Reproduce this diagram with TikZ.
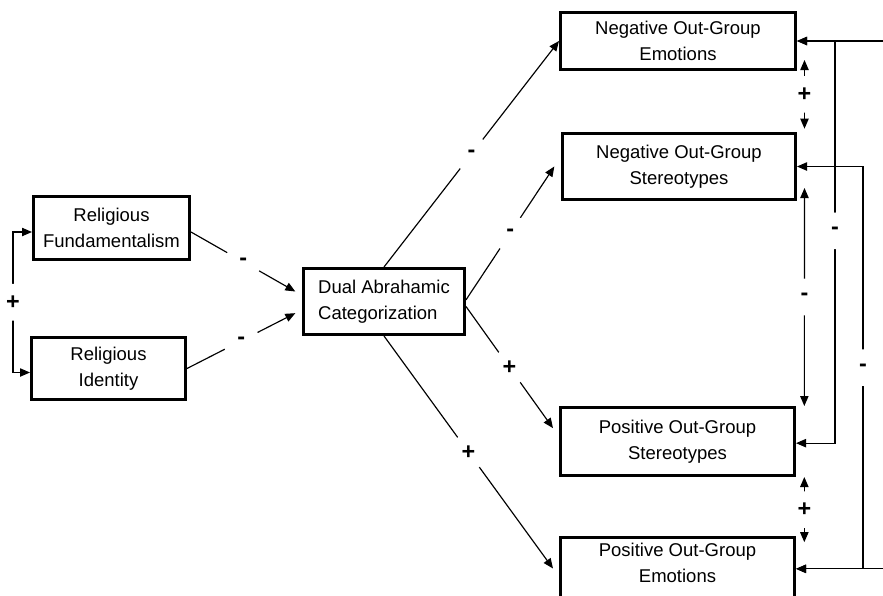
\documentclass[tikz,border=0pt]{standalone}
\usepackage{fontspec}
\setmainfont{Liberation Sans}
\usetikzlibrary{arrows.meta}

\begin{document}
\begin{tikzpicture}[x=0.6pt, y=-0.6pt, >={Triangle[length=6pt,width=5pt]},
    box/.style={rectangle, draw, line width=1.8pt, align=center, font=\fontsize{11.1}{15.6}\selectfont},
    link/.style={->, line width=0.7pt},
    sign/.style={circle, fill=white, inner sep=0pt, minimum size=22pt, font=\fontsize{14}{16}\selectfont\bfseries}]
    \useasboundingbox (0,0) rectangle (883,596);
    % Religiosity measures
    \node[box, minimum width=93.6pt, minimum height=37.8pt] (fund) at (111.5,228) {Religious\\Fundamentalism};
    \node[box, minimum width=92.4pt, minimum height=37.2pt] (ident) at (108.5,368.5) {Religious\\Identity};
    % Mediator
    \node[box, align=left, minimum width=96.6pt, minimum height=39.6pt] (dual) at (384,301.5) {Dual Abrahamic\\Categorization};
    % Out-group outcomes
    \node[box, minimum width=141pt, minimum height=34.2pt] (negemo) at (678,41) {Negative Out-Group\\Emotions};
    \node[box, minimum width=139.8pt, minimum height=39.6pt] (negster) at (679,166.5) {Negative Out-Group\\Stereotypes};
    \node[box, minimum width=140.4pt, minimum height=40.8pt] (posster) at (677.5,441.5) {Positive Out-Group\\Stereotypes};
    \node[box, minimum width=140.4pt, anchor=north, text height=24.2pt, text depth=10pt] (posemo) at (677.5,535.5) {Positive Out-Group\\Emotions};

    % Paths into the mediator
    \draw[link] ([yshift=-2.4pt]fund.east) -- node[sign]{-} ([xshift=-4pt,yshift=6pt]dual.west);
    \draw[link] (ident.east) -- node[sign]{-} ([xshift=-4pt,yshift=-7pt]dual.west);
    \draw[link,<->] ([yshift=-2.4pt]fund.west) -- ++(-19,0) |- node[pos=0.25,sign]{+} ([yshift=-2.4pt]ident.west);

    % Paths out of the mediator
    \draw[link] (dual.north) -- node[sign]{-} (negemo.west);
    \draw[link] ([yshift=1pt]dual.east) -- node[sign]{-} ([xshift=-4pt]negster.west);
    \draw[link] ([yshift=-3pt]dual.east) -- node[sign]{+} ([xshift=-3.6pt,yshift=8pt]posster.west);
    \draw[link] (dual.south) -- node[sign]{+} ([xshift=-3.6pt,yshift=-19.8pt]posemo.north west);

    % Correlations among outcomes
    \draw[link,<->] ([xshift=4.5pt,yshift=6.6pt]negemo.south east) -- node[sign]{+} ([xshift=4.5pt,yshift=2pt]negster.north east);
    \draw[link,<->] ([xshift=4.5pt,yshift=7.8pt]negster.south east) -- node[sign]{-} ([xshift=5pt]posster.north east);
    \draw[link,<->] ([xshift=5pt]posster.south east) -- node[sign]{+} ([xshift=5pt,yshift=-4pt]posemo.north east);
    \draw[link,<->] (negster.east) -- ++(66,0) |- node[pos=0.25,sign]{-} ([yshift=-20pt]posemo.north east);
    \draw[link,<->] (negemo.east) -- ++(38,0) |- node[pos=0.236,sign]{-} ([yshift=-1pt]posster.east);
    \draw[link,<->] (negemo.east) -- ++(160,0) |- ([yshift=-20pt]posemo.north east);
\end{tikzpicture}
\end{document}
